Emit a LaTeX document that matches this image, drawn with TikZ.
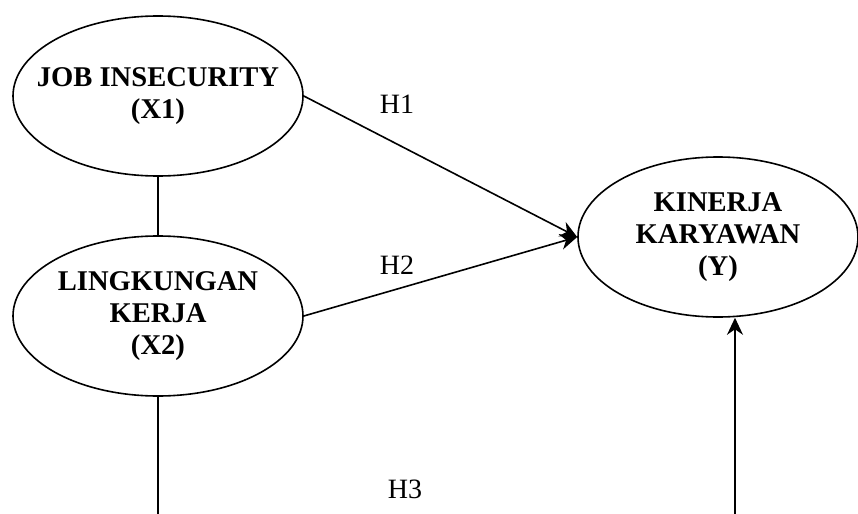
\documentclass[tikz,border=0pt]{standalone}
\usepackage{fontspec}
\setmainfont{Liberation Serif}
\usetikzlibrary{arrows.meta, shapes.geometric}

\begin{document}
\begin{tikzpicture}[
  % one unit is one pixel of the 858x514 frame, y running downwards
  x=0.5pt, y=-0.5pt,
  >={Stealth[length=8.5pt, width=8pt]},
  font=\fontsize{14}{16}\selectfont,
  latent/.style={
    ellipse, draw, line width=0.8pt,
    minimum width=145pt, minimum height=80pt, inner sep=0pt,
  },
  caption/.style={align=center, inner sep=0pt,
                  font=\fontsize{14.3}{16}\selectfont\bfseries},
  arr/.style={->, line width=0.8pt},
  link/.style={line width=0.8pt},
  hyp/.style={inner sep=0pt},
]
  \useasboundingbox (0,0) rectangle (858,514);

  % --- the three constructs ---
  \foreach \id/\x/\y/\w/\txt in {
      X1/158/96/290/{JOB INSECURITY\\(X1)},
      X2/158/316/290/{LINGKUNGAN\\KERJA\\(X2)},
      Y/718/237/280/{KINERJA\\KARYAWAN\\(Y)}%
  }{
    \node[latent, minimum width=\w*0.5pt,
          label={[caption]center:\txt}] (\id) at (\x,\y) {};
  }

  % --- free ends at the lower edge ---
  \coordinate (footL) at (158,514);
  \coordinate (footR) at (735,514);

  % --- connectors ---
  \draw[link] (X1.south) -- (X2.north);
  \draw[arr] (X1.east) -- (Y.west);
  \draw[arr] (X2.east) -- (Y.west);
  \draw[link] (X2.south) -- (footL);
  \draw[arr] (footR) -- (footR |- Y.south);

  % --- hypothesis labels ---
  \node[hyp] (H1) at (397,104) {H1};
  \node[hyp] (H2) at (397,265) {H2};
  \node[hyp] (H3) at (405,489) {H3};
\end{tikzpicture}
\end{document}
